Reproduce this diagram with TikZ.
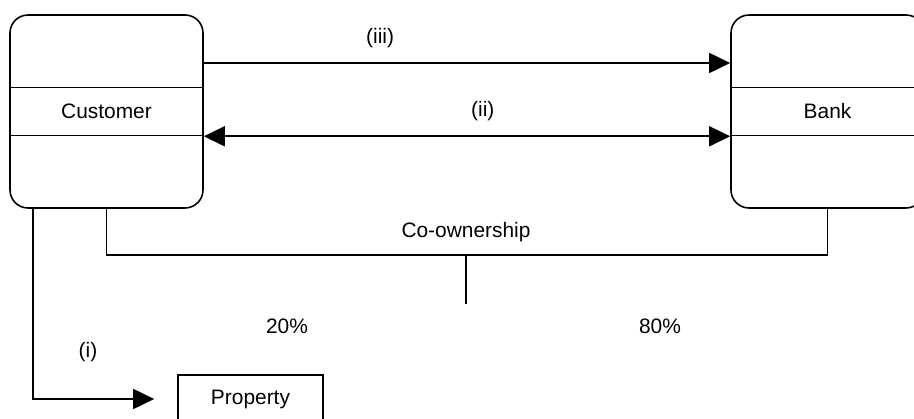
\documentclass[tikz,border=0pt]{standalone}
\usepackage{fontspec}
\setmainfont{Liberation Sans}
\usepackage{tikz}
\usetikzlibrary{arrows.meta}

\begin{document}
\begin{tikzpicture}[font=\fontsize{11.9}{14}\selectfont]
			\tikzset{party/.style={shape = rectangle, draw, rounded corners = 0.36cm, line width = 0.9pt, minimum width = 3.86cm, minimum height = 3.86cm}}
			\tikzset{band/.style={shape = rectangle, draw, line width = 0.9pt, minimum width = 3.86cm, minimum height = 0.96cm}}
			\tikzset{edge/.style={-{Triangle[length = 0.42cm, width = 0.4cm]}, line width = 0.9pt}}
			\tikzset{link/.style={line width = 0.9pt}}
			\clip (0, 0) rectangle (18.28, -8.38);
			%vertices
			\node[party] (cust) at (2.13, -2.23) {};
			\node[band] (custlbl) at (cust) {Customer};
			\node[party] (bank) at (16.55, -2.23) {};
			\node[band] (banklbl) at (bank) {Bank};
			\node[band, minimum width = 2.9cm] (prop) at (5.01, -7.98) {Property};
			\coordinate (own) at (9.32, -5.1);
			\coordinate (owntip) at (9.32, -6.08);
			%edges
			\draw[edge] ([yshift = 0.97cm]cust.east) -- node[pos = 0.335, above = 0.18cm] {(iii)} ([yshift = 0.97cm]bank.west);
			\draw[edge, {Triangle[length = 0.42cm, width = 0.4cm]}-{Triangle[length = 0.42cm, width = 0.4cm]}] (custlbl.south east) -- node[pos = 0.53, above = 0.18cm] {(ii)} (banklbl.south west);
			\draw[link] (cust.south) |- (own) -| (bank.south);
			\draw[link] (own) -- (owntip);
			\draw[edge] ([xshift = 0.48cm]cust.south west) |- ([xshift = -0.46cm]prop.west);
			%labels
			\node (coown) at (9.32, -4.64) {Co-ownership};
			\node (pcust) at (5.74, -6.52) {20\%};
			\node (pbank) at (13.2, -6.52) {80\%};
			\node (stepi) at (1.76, -7.04) {(i)};
\end{tikzpicture}
\end{document}
